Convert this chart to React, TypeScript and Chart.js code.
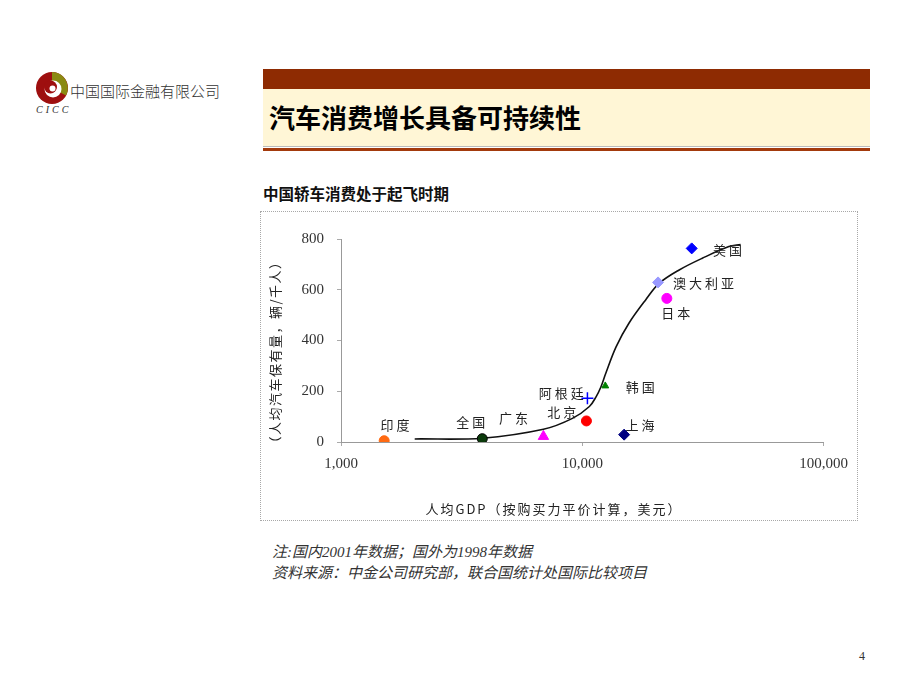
import React, { useEffect, useRef } from "react";
import { Chart, registerables } from "chart.js";

Chart.register(...registerables);

// ---- Data ----
const countries = ["印度", "全国", "广东", "北京", "阿根廷", "韩国", "上海", "澳大利亚", "日本", "美国"];
const gdpPerCapita = [1510, 3850, 6900, 10400, 10500, 12450, 14900, 20600, 22400, 28400];
const carsPer1000 = [5, 13, 22, 83, 172, 221, 29, 629, 566, 763];

// label anchor positions (data coordinates)
const labelGdp = [1675, 3450, 5190, 8220, 8170, 17380, 17350, 31770, 24380, 40000];
const labelCars = [67, 80, 95, 119, 193, 218, 67, 626, 507, 756];

// trend curve
const curveGdp = [2020, 3850, 6900, 9100, 10700, 11400, 11950, 12500, 13800, 15600, 18300, 20800, 25200, 31400, 40500, 45300];
const curveCars = [12, 15, 50, 93, 140, 178, 218, 270, 375, 468, 560, 625, 678, 724, 770, 778];

const xTicks = [1000, 10000, 100000];
const yTicks = [0, 200, 400, 600, 800];

const xTitle = "人均GDP（按购买力平价计算，美元）";
const yTitle = "（人均汽车保有量，辆/千人）";

// ---- Styles ----
const markerStyles = [
  { style: "circle", color: "#FF6A13", border: "#FF6A13", r: 5 },
  { style: "circle", color: "#0B3A0B", border: "#000000", r: 5 },
  { style: "triangle", color: "#FF00FF", border: "#FF00FF", r: 6 },
  { style: "circle", color: "#FF0000", border: "#FF0000", r: 5 },
  { style: "cross", color: "#0000FF", border: "#0000FF", r: 6 },
  { style: "triangle", color: "#008000", border: "#008000", r: 4 },
  { style: "rectRot", color: "#000080", border: "#000080", r: 5.5 },
  { style: "rectRot", color: "#9999FF", border: "#9999FF", r: 5.5 },
  { style: "circle", color: "#FF00FF", border: "#FF00FF", r: 5 },
  { style: "rectRot", color: "#0000FF", border: "#0000FF", r: 5.5 },
];

const CANVAS_W = 596;
const CANVAS_H = 308;

const annotationPlugin = {
  id: "annot",
  afterDatasetsDraw(chart: any) {
    const { ctx, scales } = chart;
    const x = scales.x;
    const y = scales.y;
    ctx.save();
    ctx.fillStyle = "#222";
    ctx.textAlign = "center";
    ctx.textBaseline = "middle";
    ctx.font = '13px "Noto Sans CJK SC"';
    (ctx as any).letterSpacing = "3px";
    countries.forEach((c, i) => {
      ctx.fillText(c, x.getPixelForValue(labelGdp[i]) + 1.5, y.getPixelForValue(labelCars[i]));
    });
    // axis titles
    (ctx as any).letterSpacing = "2px";
    ctx.fillText(xTitle, 293, 297);
    (ctx as any).letterSpacing = "1.5px";
    ctx.translate(14, 140);
    ctx.rotate(-Math.PI / 2);
    ctx.fillText(yTitle, 0, 0);
    ctx.restore();
  },
};

function ScatterChart() {
  const ref = useRef<HTMLCanvasElement | null>(null);
  useEffect(() => {
    if (!ref.current) return;
    const pointSets = countries.map((c, i) => ({
      type: "scatter" as const,
      label: c,
      data: [{ x: gdpPerCapita[i], y: carsPer1000[i] }],
      pointStyle: markerStyles[i].style as any,
      pointRadius: markerStyles[i].r,
      backgroundColor: markerStyles[i].color,
      borderColor: markerStyles[i].border,
      borderWidth: markerStyles[i].style === "cross" ? 1.5 : 1,
      order: 0,
    }));
    const chart = new Chart(ref.current, {
      type: "scatter",
      data: {
        datasets: [
          ...pointSets,
          {
            type: "line" as const,
            label: "curve",
            data: curveGdp.map((g, i) => ({ x: g, y: curveCars[i] })),
            borderColor: "#111",
            borderWidth: 1.6,
            pointRadius: 0,
            fill: false,
            tension: 0.35,
            order: 10,
          } as any,
        ],
      },
      options: {
        responsive: false,
        animation: false,
        layout: { padding: { top: 27, right: 33, left: 0, bottom: 0 } },
        plugins: { legend: { display: false }, tooltip: { enabled: false } },
        scales: {
          x: {
            type: "logarithmic",
            min: 1000,
            max: 100000,
            afterBuildTicks: (scale: any) => {
              scale.ticks = xTicks.map((v) => ({ value: v }));
            },
            afterFit: (scale: any) => {
              scale.height = 78;
            },
            ticks: {
              color: "#333",
              font: { family: '"Liberation Serif", serif', size: 15 },
              padding: 9,
              maxRotation: 0,
              autoSkip: false,
              callback: (v: any) => Number(v).toLocaleString("en-US"),
            },
            grid: { display: true, drawOnChartArea: false, drawTicks: true, tickLength: 4, color: "#aaa" },
            border: { display: true, color: "#999", width: 1 },
          },
          y: {
            type: "linear",
            min: 0,
            max: 800,
            afterBuildTicks: (scale: any) => {
              scale.ticks = yTicks.map((v) => ({ value: v }));
            },
            afterFit: (scale: any) => {
              scale.width = 80;
            },
            ticks: {
              color: "#333",
              font: { family: '"Liberation Serif", serif', size: 15 },
              padding: 13,
            },
            grid: { display: true, drawOnChartArea: false, drawTicks: true, tickLength: 4, color: "#aaa" },
            border: { display: true, color: "#999", width: 1 },
          },
        },
      },
      plugins: [annotationPlugin],
    });
    return () => chart.destroy();
  }, []);
  return <canvas ref={ref} width={CANVAS_W} height={CANVAS_H} style={{ width: CANVAS_W, height: CANVAS_H, display: "block" }} />;
}

function Logo() {
  return (
    <svg width="36" height="36" viewBox="-18 -18 36 36" style={{ position: "absolute", left: 34, top: 70 }}>
      <circle cx="0" cy="0" r="16" fill="#9E0F0F" />
      <path d="M0,0 L0,-16 A16,16 0 0,1 14,7.5 Z" fill="#8A8A12" />
      <circle cx="1" cy="1" r="8.5" fill="#fff" />
      <circle cx="-1.5" cy="-1" r="6.5" fill="#9E0F0F" />
      <circle cx="0.5" cy="0.5" r="3" fill="#fff" />
    </svg>
  );
}

export default function App() {
  return (
    <div style={{ position: "absolute", left: 0, top: 0, width: 920, height: 690, background: "#fff", overflow: "hidden" }}>
      <Logo />
      <div style={{ position: "absolute", left: 70, top: 80, font: '300 15px "Noto Sans CJK SC"', color: "#333", lineHeight: "22px", whiteSpace: "nowrap" }}>
        中国国际金融有限公司
      </div>
      <div style={{ position: "absolute", left: 36, top: 104, font: 'italic 10px "Liberation Serif", serif', color: "#333", letterSpacing: 3 }}>
        CICC
      </div>

      {/* Title banner */}
      <div style={{ position: "absolute", left: 263, top: 69, width: 607, height: 20, background: "#8E2B02" }} />
      <div style={{ position: "absolute", left: 263, top: 89, width: 607, height: 57, background: "#FFF6D6" }} />
      <div style={{ position: "absolute", left: 263, top: 146, width: 607, height: 1, background: "#bbb" }} />
      <div style={{ position: "absolute", left: 263, top: 148, width: 607, height: 3, background: "#A33A0C" }} />
      <div style={{ position: "absolute", left: 269, top: 99, font: '700 26px "Noto Sans CJK SC"', color: "#000", lineHeight: "36px", whiteSpace: "nowrap" }}>
        汽车消费增长具备可持续性
      </div>

      <div style={{ position: "absolute", left: 263, top: 182, font: '700 15.5px "Noto Sans CJK SC"', color: "#111", lineHeight: "22px", whiteSpace: "nowrap" }}>
        中国轿车消费处于起飞时期
      </div>

      <div style={{ position: "absolute", left: 260, top: 211, width: CANVAS_W + 2, height: CANVAS_H + 2, boxSizing: "border-box", border: "1px dotted #a8a8a8" }}>
        <ScatterChart />
      </div>

      <div style={{ position: "absolute", left: 272, top: 542, font: 'italic 15px "Liberation Serif", "Noto Sans CJK SC"', color: "#333", lineHeight: "21px", whiteSpace: "nowrap" }}>
        <div>注:国内2001年数据；国外为1998年数据</div>
        <div>资料来源：中金公司研究部，联合国统计处国际比较项目</div>
      </div>

      <div style={{ position: "absolute", left: 859, top: 649, font: '12px "Liberation Serif", serif', color: "#333" }}>4</div>
    </div>
  );
}
